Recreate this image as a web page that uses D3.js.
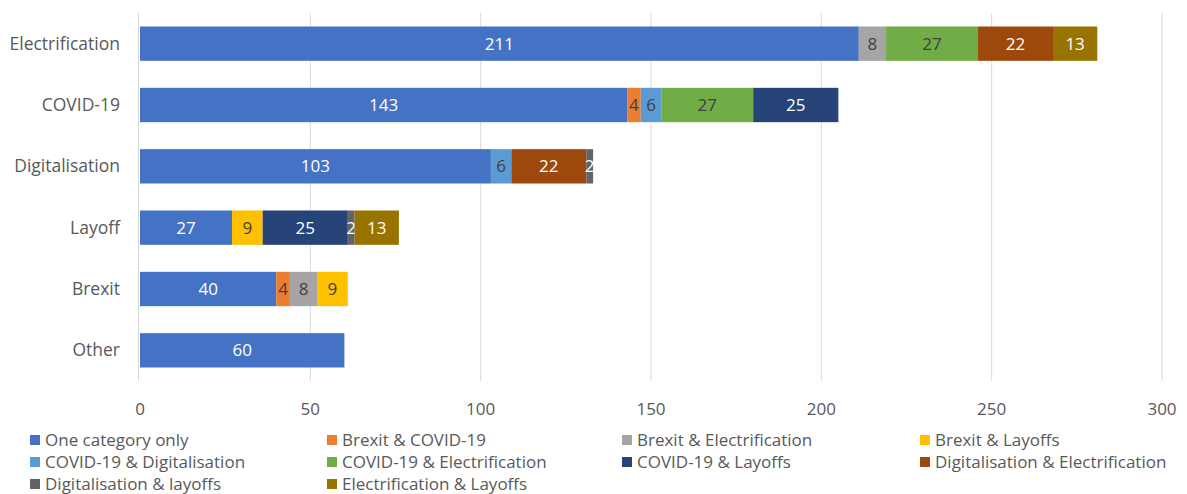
<!DOCTYPE html>
<html>
<head>
<meta charset="utf-8">
<script src="https://cdn.jsdelivr.net/npm/d3@7"></script>
<style>
  body { margin: 0; background: #fff; }
  text { font-family: "Open Sans", "Noto Sans", sans-serif; }
</style>
</head>
<body>
<div id="chart"></div>
<script>
var categories = ["Electrification", "COVID-19", "Digitalisation", "Layoff", "Brexit", "Other"];
var seriesNames = [
  "One category only", "Brexit & COVID-19", "Brexit & Electrification", "Brexit & Layoffs",
  "COVID-19 & Digitalisation", "COVID-19 & Electrification", "COVID-19 & Layoffs",
  "Digitalisation & Electrification", "Digitalisation & layoffs", "Electrification & Layoffs"
];
var colors = ["#4472C4", "#ED7D31", "#A5A5A5", "#FFC000", "#5B9BD5", "#70AD47", "#264478", "#9E480E", "#636363", "#997300"];
var labelColors = ["#fff", "#404040", "#404040", "#404040", "#404040", "#404040", "#fff", "#fff", "#fff", "#fff"];

// values per series, in category order
var oneCategory   = [211, 143, 103, 27, 40, 60];
var brexitCovid   = [0, 4, 0, 0, 4, 0];
var brexitElec    = [8, 0, 0, 0, 8, 0];
var brexitLayoffs = [0, 0, 0, 9, 9, 0];
var covidDigital  = [0, 6, 6, 0, 0, 0];
var covidElec     = [27, 27, 0, 0, 0, 0];
var covidLayoffs  = [0, 25, 0, 25, 0, 0];
var digitalElec   = [22, 0, 22, 0, 0, 0];
var digitalLayoff = [0, 0, 2, 2, 0, 0];
var elecLayoffs   = [13, 0, 0, 13, 0, 0];
var seriesValues = [oneCategory, brexitCovid, brexitElec, brexitLayoffs, covidDigital,
  covidElec, covidLayoffs, digitalElec, digitalLayoff, elecLayoffs];
var xTicks = [0, 50, 100, 150, 200, 250, 300];

var width = 1187, height = 494;
var margin = {top: 13, right: 25, bottom: 113, left: 140};

var svg = d3.select("#chart").append("svg")
  .attr("width", width).attr("height", height);

var x = d3.scaleLinear().domain([0, 300]).range([margin.left, width - margin.right]);
var y = d3.scaleBand().domain(categories)
  .range([margin.top, height - margin.bottom]).paddingInner(0.44).paddingOuter(0.22);

// gridlines
svg.append("g").selectAll("line").data(xTicks.slice(1)).enter().append("line")
  .attr("x1", function(d) { return x(d); }).attr("x2", function(d) { return x(d); })
  .attr("y1", margin.top).attr("y2", height - margin.bottom)
  .attr("stroke", "#d9d9d9").attr("stroke-width", 1);

svg.append("line")
  .attr("x1", x(0) - 1.5).attr("x2", x(0) - 1.5)
  .attr("y1", margin.top).attr("y2", height - margin.bottom)
  .attr("stroke", "#d9d9d9");

// tick labels
svg.append("g").selectAll("text").data(xTicks).enter().append("text")
  .attr("x", function(d) { return x(d); })
  .attr("y", 415)
  .attr("text-anchor", "middle")
  .attr("font-size", 17)
  .attr("fill", "#595959")
  .text(function(d) { return d; });

// category labels
svg.append("g").selectAll("text").data(categories).enter().append("text")
  .attr("x", margin.left - 20)
  .attr("y", function(d) { return y(d) + y.bandwidth() / 2; })
  .attr("dy", "0.35em")
  .attr("text-anchor", "end")
  .attr("font-size", 17.5)
  .attr("fill", "#595959")
  .text(function(d) { return d; });

// stacked bars
var rows = categories.map(function(c, i) {
  var r = {cat: c};
  seriesNames.forEach(function(s, j) { r[s] = seriesValues[j][i]; });
  return r;
});
var stack = d3.stack().keys(seriesNames)(rows);

var layers = svg.append("g").selectAll("g").data(stack).enter().append("g")
  .attr("fill", function(d, i) { return colors[i]; });

layers.selectAll("rect").data(function(d) { return d; }).enter().append("rect")
  .attr("x", function(d) { return x(d[0]); })
  .attr("y", function(d) { return y(d.data.cat); })
  .attr("width", function(d) { return x(d[1]) - x(d[0]); })
  .attr("height", y.bandwidth());

layers.each(function(layer, i) {
  d3.select(this).selectAll("text")
    .data(layer.filter(function(d) { return d[1] - d[0] > 0; }))
    .enter().append("text")
    .attr("x", function(d) { return (x(d[0]) + x(d[1])) / 2; })
    .attr("y", function(d) { return y(d.data.cat) + y.bandwidth() / 2; })
    .attr("dy", "0.36em")
    .attr("text-anchor", "middle")
    .attr("font-size", 17)
    .attr("fill", labelColors[i])
    .text(function(d) { return d[1] - d[0]; });
});

// legend
var legendCols = [30, 327, 622, 920];
var legendRows = [440, 462, 484];
var legend = svg.append("g").selectAll("g").data(seriesNames).enter().append("g")
  .attr("transform", function(d, i) {
    return "translate(" + legendCols[i % 4] + "," + legendRows[Math.floor(i / 4)] + ")";
  });
legend.append("rect")
  .attr("x", 0).attr("y", -5).attr("width", 10).attr("height", 10)
  .attr("fill", function(d, i) { return colors[i]; });
legend.append("text")
  .attr("x", 15).attr("y", 0).attr("dy", "0.35em")
  .attr("font-size", 17)
  .attr("fill", "#595959")
  .text(function(d) { return d; });
</script>
</body>
</html>
